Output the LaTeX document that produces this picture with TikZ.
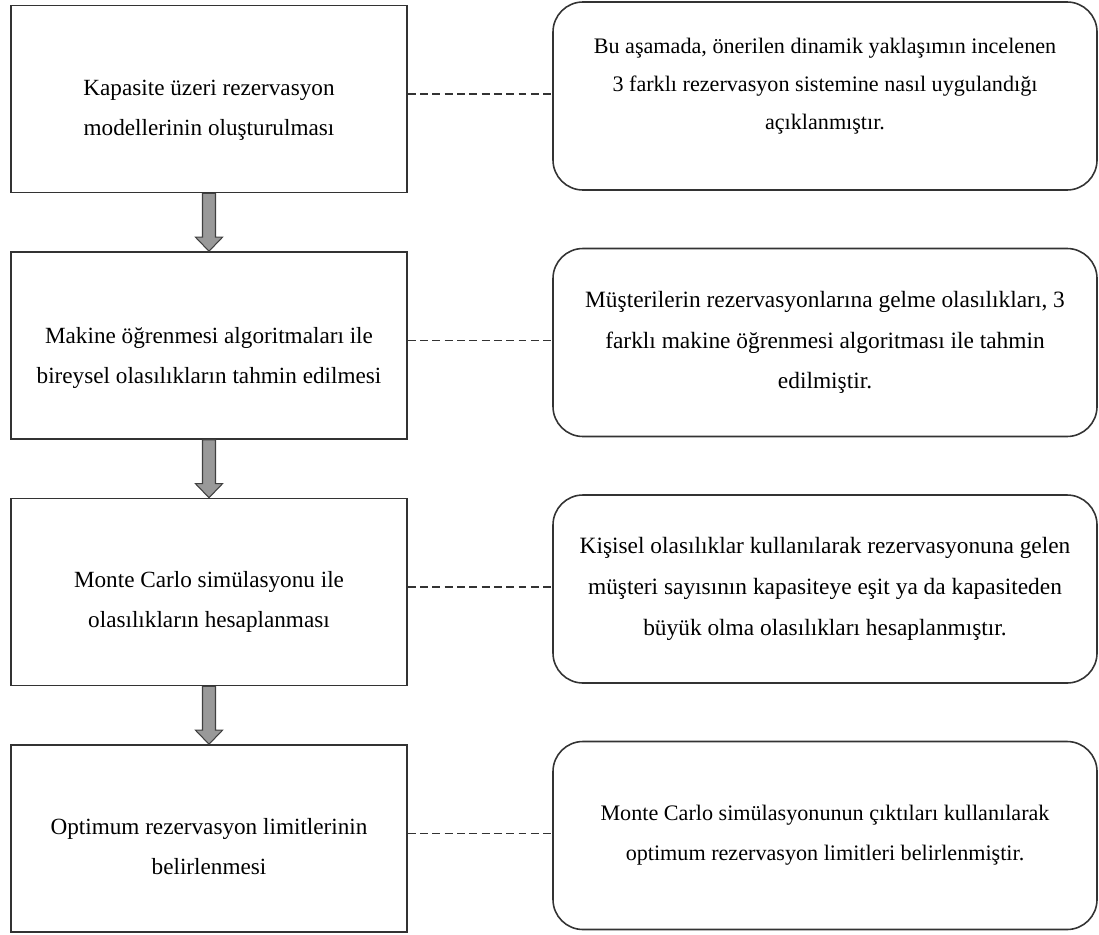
\documentclass[tikz,border=0pt]{standalone}
\usepackage{fontspec}
\setmainfont{Liberation Serif}
\usetikzlibrary{positioning,calc}

\begin{document}
\begin{tikzpicture}[every node/.style={align=center},
  boyut/.style 2 args={font=\fontsize{#1}{#2}\selectfont},
  adim/.style={draw=black!80, line width=0.9pt, minimum width=7.92cm, minimum height=3.74cm},
  aciklama/.style={draw=black!80, line width=0.9pt, rounded corners=0.6cm, minimum width=10.88cm, minimum height=3.76cm},
  baglanti/.style={black!80, line width=0.9pt, dash pattern=on 4.5pt off 2.5pt},
  okgovde/.style={draw=black!75, line width=0.6pt, fill=gray!80}]
\useasboundingbox (0,0) rectangle (21.98,-18.68);
% adimlar
\node[adim] (model) at (4.18,-1.98) {};
\node[adim] (tahmin) at (4.18,-6.91) {};
\node[adim] (sim) at (4.18,-11.84) {};
\node[adim] (limit) at (4.18,-16.77) {};
\node[boyut={13.2}{22.8}] (modelyazi) at ([yshift=-0.22cm]model.center) {Kapasite üzeri rezervasyon\\modellerinin oluşturulması};
\node[boyut={13.2}{22.8}] (tahminyazi) at ([yshift=-0.24cm]tahmin.center) {Makine öğrenmesi algoritmaları ile\\bireysel olasılıkların tahmin edilmesi};
\node[boyut={13.2}{22.8}] (simyazi) at ([yshift=-0.2cm]sim.center) {Monte Carlo simülasyonu ile\\olasılıkların hesaplanması};
\node[boyut={13.2}{22.8}] (limityazi) at ([yshift=-0.16cm]limit.center) {Optimum rezervasyon limitlerinin\\belirlenmesi};
% aciklamalar
\node[aciklama] (modelnot) at (16.5,-1.92) {};
\node[aciklama] (tahminnot) at (16.5,-6.85) {};
\node[aciklama] (simnot) at (16.5,-11.78) {};
\node[aciklama] (limitnot) at (16.5,-16.71) {};
\node[boyut={12.6}{21.8}] (modelnotyazi) at ([yshift=0.2cm]modelnot.center) {Bu aşamada, önerilen dinamik yaklaşımın incelenen\\3 farklı rezervasyon sistemine nasıl uygulandığı\\açıklanmıştır.};
\node[boyut={13.3}{23}] (tahminnotyazi) at (tahminnot.center) {Müşterilerin rezervasyonlarına gelme olasılıkları, 3\\farklı makine öğrenmesi algoritması ile tahmin\\edilmiştir.};
\node[boyut={13.3}{23.4}] (simnotyazi) at (simnot.center) {Kişisel olasılıklar kullanılarak rezervasyonuna gelen\\müşteri sayısının kapasiteye eşit ya da kapasiteden\\büyük olma olasılıkları hesaplanmıştır.};
\node[boyut={12.6}{22.6}] (limitnotyazi) at (limitnot.center) {Monte Carlo simülasyonunun çıktıları kullanılarak\\optimum rezervasyon limitleri belirlenmiştir.};
% kesikli baglantilar
\foreach \a/\b in {model/modelnot,tahmin/tahminnot,sim/simnot,limit/limitnot}
  \draw[baglanti] ($(\a.east)+(0,0.1)$) -- ($(\a.east -| \b.west)+(0,0.1)$);
% oklar
\foreach \a/\b in {model/tahmin,tahmin/sim,sim/limit}
  \draw[okgovde] ($(\a.south)+(-0.13,0)$) -- ($(\b.north)+(-0.13,0.28)$) -- ($(\b.north)+(-0.27,0.28)$)
    -- (\b.north) -- ($(\b.north)+(0.27,0.28)$) -- ($(\b.north)+(0.13,0.28)$) -- ($(\a.south)+(0.13,0)$) -- cycle;
\end{tikzpicture}
\end{document}
